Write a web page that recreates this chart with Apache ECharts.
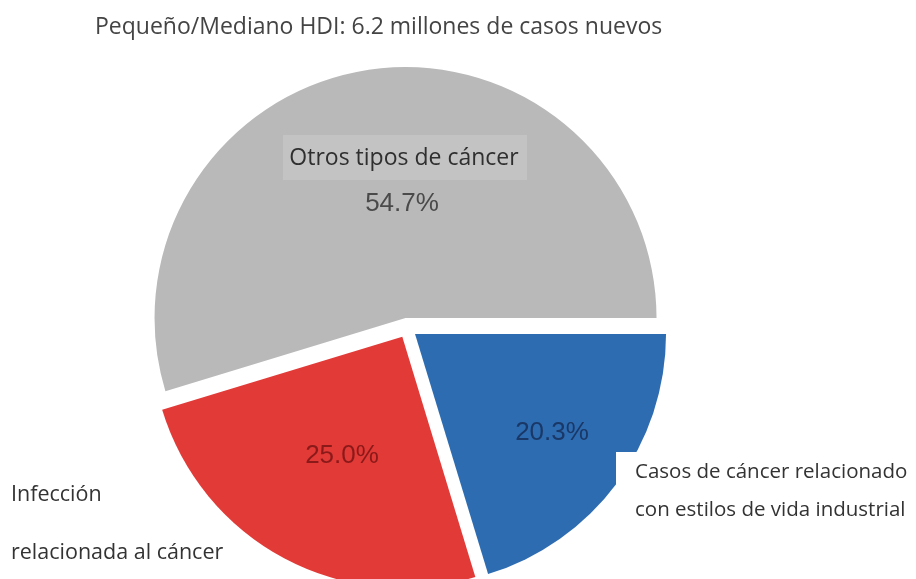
<!DOCTYPE html>
<html>
<head>
<meta charset="utf-8">
<script src="https://cdn.jsdelivr.net/npm/echarts@6/dist/echarts.min.js"></script>
<style>
  html, body { margin: 0; padding: 0; background: #ffffff; }
  #chart { width: 916px; height: 579px; }
</style>
</head>
<body>
<div id="chart"></div>
<script>
// Share of new cancer cases in low/medium HDI countries
const titleText = 'Pequeño/Mediano HDI: 6.2 millones de casos nuevos';
const categories = [
  'Otros tipos de cáncer',
  'Infección relacionada al cáncer',
  'Casos de cáncer relacionado con estilos de vida industrial'
];
const shares = [54.7, 25.0, 20.3];
const sliceColors = ['#b8b9b8', '#e23a37', '#2e6cb1'];
const valueColors = ['#4a4a4a', '#8a1919', '#1a3867'];

const chart = echarts.init(document.getElementById('chart'), null, { renderer: 'canvas' });

const pieData = categories.map((name, i) => ({
  name: name,
  value: shares[i],
  selected: true,
  itemStyle: { color: sliceColors[i] }
}));

// where each percentage sits inside its slice
const valueSpots = [[402, 204], [342, 456], [552, 433]];

const percentTexts = shares.map((v, i) => ({
  type: 'text',
  z: 12,
  x: valueSpots[i][0],
  y: valueSpots[i][1],
  style: {
    text: v.toFixed(1) + '%',
    fontFamily: 'Liberation Sans',
    fontSize: 26,
    fill: valueColors[i],
    align: 'center',
    verticalAlign: 'middle'
  }
}));

const nameFont = { fontFamily: 'Open Sans', fill: '#333333', align: 'left', verticalAlign: 'middle' };

chart.setOption({
  animation: false,
  title: {
    text: titleText,
    left: 90,
    top: 11,
    textStyle: {
      fontFamily: 'Open Sans',
      fontSize: 23,
      fontWeight: 'normal',
      color: '#444444'
    }
  },
  series: [{
    type: 'pie',
    center: [407, 328],
    radius: [0, 251],
    startAngle: 0,
    clockwise: false,
    selectedMode: 'multiple',
    selectedOffset: 10,
    silent: true,
    emphasis: { disabled: true },
    data: pieData,
    label: { show: false },
    labelLine: { show: false }
  }],
  graphic: [
    {
      type: 'rect',
      z: 10,
      shape: { x: 283, y: 135, width: 244, height: 45 },
      style: { fill: '#c2c3c2' }
    },
    {
      type: 'text',
      z: 11,
      x: 404, y: 158,
      style: {
        text: categories[0],
        fontFamily: 'Open Sans', fontSize: 23,
        fill: '#2f2f2f', align: 'center', verticalAlign: 'middle'
      }
    },
    {
      type: 'rect',
      z: 10,
      shape: { x: 616, y: 452, width: 300, height: 127 },
      style: { fill: '#ffffff' }
    },
    { type: 'text', z: 11, x: 635, y: 472, style: Object.assign({ text: 'Casos de cáncer relacionado', fontSize: 20.5 }, nameFont) },
    { type: 'text', z: 11, x: 635, y: 510, style: Object.assign({ text: 'con estilos de vida industrial', fontSize: 20.5 }, nameFont) },
    { type: 'text', z: 11, x: 11, y: 495, style: Object.assign({ text: 'Infección', fontSize: 21.5 }, nameFont) },
    { type: 'text', z: 11, x: 11, y: 553, style: Object.assign({ text: 'relacionada al cáncer', fontSize: 21.5 }, nameFont) }
  ].concat(percentTexts)
});
</script>
</body>
</html>
